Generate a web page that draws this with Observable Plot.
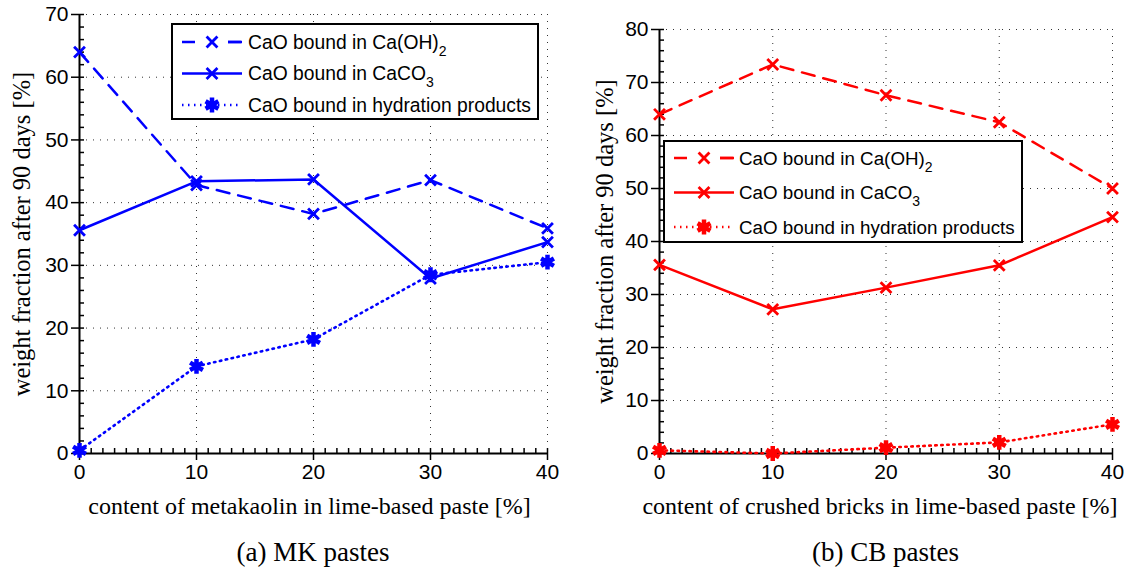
<!DOCTYPE html>
<html><head><meta charset="utf-8">
<script src="https://cdn.jsdelivr.net/npm/d3@7"></script>
<script src="https://cdn.jsdelivr.net/npm/@observablehq/plot@0.6"></script>
<style>
body{margin:0;background:#fff;}
#wrap{display:flex;width:1124px;}
.panel{width:562px;}
.cap{font-family:"Liberation Serif","Times New Roman",serif;font-size:27px;height:44px;line-height:44px;text-align:center;color:#000}
</style></head><body><div id="wrap"></div>
<script>
// ---- data ----
const xs = [0, 10, 20, 30, 40];
const mkCaOH2 = [64.0, 42.8, 38.2, 43.6, 35.9];
const mkCaCO3 = [35.6, 43.4, 43.7, 27.9, 33.7];
const mkHydr  = [0.5, 13.9, 18.2, 28.5, 30.5];
const cbCaOH2 = [64.0, 73.4, 67.6, 62.5, 50.0];
const cbCaCO3 = [35.6, 27.2, 31.3, 35.5, 44.6];
const cbHydr  = [0.6, 0.0, 1.1, 2.1, 5.5];
const seriesNames = ["CaO bound in Ca(OH)", "CaO bound in CaCO", "CaO bound in hydration products"];
const seriesSubs = ["2", "3", ""];
const yLabel = "weight fraction after 90 days [%]";
const xLabelMK = "content of metakaolin in lime-based paste [%]";
const xLabelCB = "content of crushed bricks in lime-based paste [%]";
const capMK = "(a) MK pastes";
const capCB = "(b) CB pastes";

const SANS = "'Liberation Sans', Arial, Helvetica, sans-serif";
const SERIF = "'Liberation Serif', 'Times New Roman', serif";

function rows(vals) { return xs.map((x, i) => ({x, y: vals[i]})); }

function panel(cfg) {
  const {series, color, ymax, xLabel, caption, mLeft, mRight, mTop, yLabDx, xLabDx, legend} = cfg;
  const W = 562, H = 530, mBottom = 77;
  const dashes = ["13,9", null, "1.5,4.5"];
  const marks = [
    Plot.gridY(d3.range(10, ymax + 1, 10), {stroke: "#333", strokeOpacity: 1, strokeWidth: 1, strokeDasharray: "1,6"}),
    Plot.gridX([10, 20, 30, 40], {stroke: "#333", strokeOpacity: 1, strokeWidth: 1, strokeDasharray: "1,6"}),
    Plot.axisY(d3.range(0, ymax + 1, 10), {tickSize: 8, tickPadding: 3, fontSize: 21, fontFamily: SANS, strokeWidth: 1.5, label: null, color: "black"}),
    Plot.axisY(d3.range(0, ymax + 1, 2), {tickSize: -5, tickFormat: () => "", strokeWidth: 1.5, label: null}),
    Plot.axisX(xs, {tickSize: 7, tickPadding: 4, fontSize: 21, fontFamily: SANS, strokeWidth: 1.5, label: null}),
    Plot.axisX(d3.range(0, 41, 1), {tickSize: -5, tickFormat: () => "", strokeWidth: 1.5, label: null}),
    Plot.ruleX([0], {stroke: "black", strokeWidth: 2}),
    Plot.ruleY([0], {stroke: "black", strokeWidth: 2}),
  ];
  series.forEach((vals, i) => {
    const d = rows(vals);
    marks.push(Plot.line(d, {x: "x", y: "y", stroke: color, strokeWidth: i === 2 ? 2.6 : 2.5, strokeDasharray: dashes[i] || undefined}));
    if (i < 2) marks.push(Plot.dot(d, {x: "x", y: "y", symbol: "times", r: 5, stroke: color, strokeWidth: 2.8}));
    else marks.push(Plot.dot(d, {x: "x", y: "y", symbol: "asterisk", r: 7, stroke: color, fill: color, strokeWidth: 4.5}));
  });
  marks.push(Plot.text([yLabel], {frameAnchor: "left", rotate: -90, dx: yLabDx, fontFamily: SERIF, fontSize: 24.5, fill: "black", textAnchor: "middle", lineAnchor: "middle"}));
  marks.push(Plot.text([xLabel], {frameAnchor: "bottom", dx: xLabDx, dy: 53, fontFamily: SERIF, fontSize: 24, fill: "black", textAnchor: "middle", lineAnchor: "middle"}));

  const svg = Plot.plot({
    width: W, height: H,
    marginLeft: mLeft, marginRight: mRight, marginTop: mTop, marginBottom: mBottom,
    x: {domain: [0, 40]},
    y: {domain: [0, ymax]},
    style: {fontFamily: SANS, fontSize: "19px", color: "black", background: "white", overflow: "visible"},
    marks
  });

  // legend
  const g = d3.select(svg).append("g").attr("text-anchor", "start");
  const L = legend;
  g.append("rect").attr("x", L.x).attr("y", L.y).attr("width", L.w).attr("height", L.h)
    .attr("fill", "white").attr("stroke", "black").attr("stroke-width", 2);
  seriesNames.forEach((name, i) => {
    const cy = L.y + L.first + i * L.step;
    const ln = g.append("line").attr("x1", L.x + 10).attr("x2", L.x + 70).attr("y1", cy).attr("y2", cy)
      .attr("stroke", color).attr("stroke-width", 2.5);
    if (i === 0) ln.attr("stroke-dasharray", "13,33");
    if (i === 0) {
      g.append("line").attr("x1", L.x + 56).attr("x2", L.x + 70).attr("y1", cy).attr("y2", cy)
        .attr("stroke", color).attr("stroke-width", 2.5);
    }
    if (i === 2) ln.attr("stroke-dasharray", "1.5,4.5");
    const sym = i < 2 ? d3.symbolTimes : d3.symbolAsterisk;
    const r = i < 2 ? 5 : 7;
    g.append("path").attr("d", d3.symbol(sym, Math.PI * r * r)())
      .attr("transform", `translate(${L.x + 40},${cy})`)
      .attr("stroke", color).attr("stroke-width", i < 2 ? 2.8 : 4.5).attr("fill", i < 2 ? "none" : color);
    const t = g.append("text").attr("x", L.x + L.tx).attr("y", cy).attr("dy", "0.35em")
      .attr("text-anchor", "start")
      .attr("font-family", SANS).attr("font-size", L.fs).attr("fill", "black").text(name);
    if (seriesSubs[i]) t.append("tspan").attr("dy", 7).attr("font-size", 14).text(seriesSubs[i]);
  });

  const div = document.createElement("div");
  div.className = "panel";
  div.appendChild(svg);
  const cap = document.createElement("div");
  cap.className = "cap";
  cap.style.paddingLeft = mLeft + "px";
  cap.style.width = (W - mLeft - mRight) + "px";
  cap.textContent = caption;
  div.appendChild(cap);
  return div;
}

const wrap = document.getElementById("wrap");
wrap.appendChild(panel({
  series: [mkCaOH2, mkCaCO3, mkHydr], color: "#0000ff", ymax: 70,
  xLabel: xLabelMK, caption: capMK, mLeft: 79, mRight: 15, mTop: 14, yLabDx: -57, xLabDx: -4,
  legend: {x: 172, y: 24, w: 366, h: 95, first: 18, step: 31.5, tx: 76, fs: 19.3}
}));
wrap.appendChild(panel({
  series: [cbCaOH2, cbCaCO3, cbHydr], color: "#ff0000", ymax: 80,
  xLabel: xLabelCB, caption: capCB, mLeft: 97, mRight: 12, mTop: 29, yLabDx: -54, xLabDx: -6,
  legend: {x: 102, y: 141, w: 358, h: 101, first: 17, step: 34.5, tx: 75, fs: 18.8}
}));
</script></body></html>
